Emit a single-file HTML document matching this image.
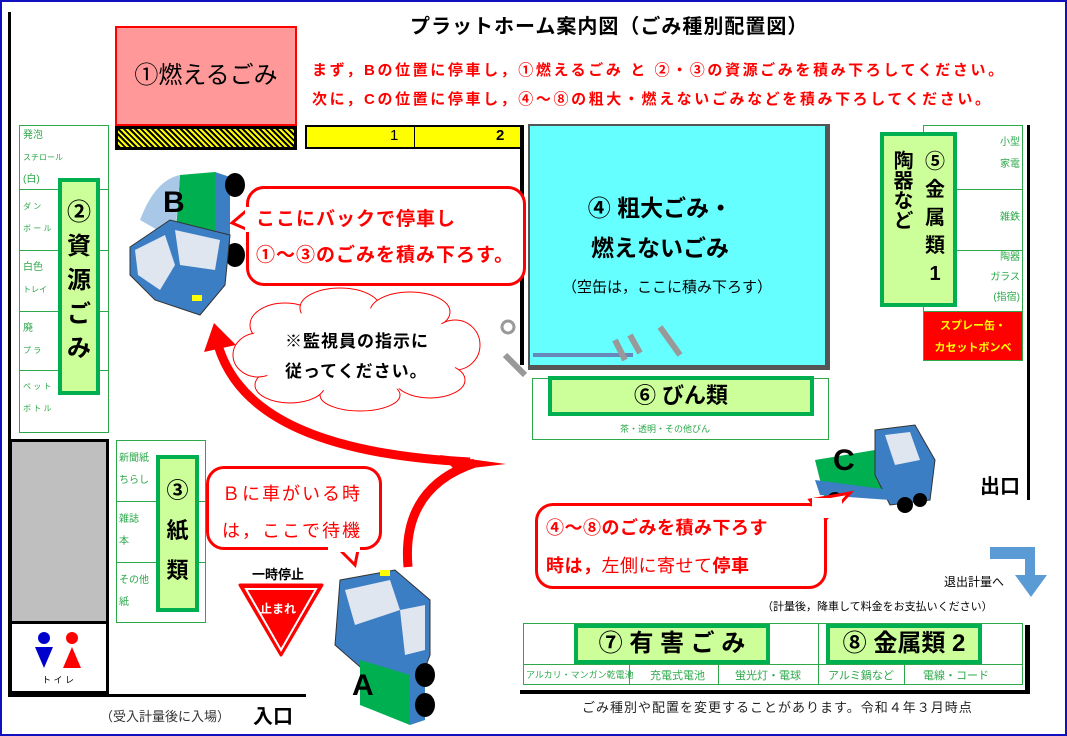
<!DOCTYPE html>
<html><head><meta charset="utf-8"><style>
*{margin:0;padding:0;box-sizing:border-box}
body{width:1067px;height:736px;position:relative;background:#fff;overflow:hidden;font-family:"Liberation Sans","Noto Sans CJK JP",sans-serif}
.a{position:absolute}
.g{color:#2ca84a;font-size:10px;line-height:22px;padding-left:3px}
.gb{border:1px solid #2ca84a}
.lbl{background:#ccff99;border:4px solid #00b050;font-weight:bold;color:#000;text-align:center}
.red{color:#ff0000;font-weight:bold}
.bub{border:3px solid #ff0000;border-radius:18px;background:#fff}
</style></head><body>
<div class="a" style="left:0;top:0;width:1067px;height:736px;border:2px solid #1010c0"></div>
<!-- walls -->
<div class="a" style="left:8px;top:12px;width:3px;height:685px;background:#000"></div>
<div class="a" style="left:8px;top:694px;width:298px;height:3px;background:#000"></div>
<div class="a" style="left:1027px;top:125px;width:3px;height:375px;background:#000"></div>
<div class="a" style="left:520px;top:690px;width:510px;height:4px;background:#000"></div>
<div class="a" style="left:1025px;top:625px;width:5px;height:68px;background:#000"></div>

<div class="a" style="left:410px;top:10px;font-size:20px;font-weight:bold;letter-spacing:1px">プラットホーム案内図（ごみ種別配置図）</div>
<div class="a red" style="left:312px;top:59px;font-size:15px;letter-spacing:2.6px;white-space:nowrap">まず，Bの位置に停車し，①燃えるごみ と ②・③の資源ごみを積み下ろしてください。</div>
<div class="a red" style="left:312px;top:88px;font-size:15px;letter-spacing:2.6px;white-space:nowrap">次に，Cの位置に停車し，④～⑧の粗大・燃えないごみなどを積み下ろしてください。</div>

<!-- 1 burnable -->
<div class="a" style="left:115px;top:26px;width:182px;height:100px;background:#ff9999;border:2px solid #ff0000;font-size:24px;text-align:center;line-height:96px">①燃えるごみ</div>
<div class="a" style="left:115px;top:126px;width:182px;height:24px;border:3px solid #000;background:repeating-linear-gradient(45deg,#000 0 2px,#ff0 2px 4px)"></div>
<div class="a" style="left:305px;top:125px;width:218px;height:24px;background:#ffff00;border:2px solid #000;border-right:none"></div>
<div class="a" style="left:414px;top:125px;width:1px;height:24px;background:#000"></div>
<div class="a" style="left:390px;top:127px;font-size:15px">1</div>
<div class="a" style="left:496px;top:127px;font-size:15px;font-weight:bold">2</div>
<div class="a" style="left:520px;top:125px;width:4px;height:240px;background:#000"></div>

<!-- left column -->
<div class="a gb" style="left:19px;top:125px;width:90px;height:308px"></div>
<div class="a" style="left:19px;top:189px;width:90px;height:1px;background:#2ca84a"></div>
<div class="a" style="left:19px;top:250px;width:90px;height:1px;background:#2ca84a"></div>
<div class="a" style="left:19px;top:311px;width:90px;height:1px;background:#2ca84a"></div>
<div class="a" style="left:19px;top:370px;width:90px;height:1px;background:#2ca84a"></div>
<div class="a g" style="left:20px;top:125px">発泡<br><span style="font-size:8px">スチロール</span><br>(白)</div>
<div class="a g" style="left:20px;top:196px;font-size:8px">ダ ン<br>ボ ー ル</div>
<div class="a g" style="left:20px;top:257px">白色<br><span style="font-size:8px">トレイ</span></div>
<div class="a g" style="left:20px;top:318px">廃<br><span style="font-size:8px">プ ラ</span></div>
<div class="a g" style="left:20px;top:376px;font-size:8px">ペ ッ ト<br>ボ ト ル</div>
<div class="a lbl" style="left:58px;top:178px;width:42px;height:217px;font-size:24px;line-height:34px;padding-top:14px">②<br>資<br>源<br>ご<br>み</div>

<!-- gray & toilet -->
<div class="a" style="left:9px;top:439px;width:100px;height:255px;border:3px solid #000"></div>
<div class="a" style="left:12px;top:442px;width:94px;height:180px;background:#bfbfbf"></div>
<div class="a" style="left:9px;top:621px;width:100px;height:3px;background:#000"></div>
<svg class="a" style="left:30px;top:630px" width="60" height="45"><circle cx="14" cy="8" r="6" fill="#0000cc"/><polygon points="5,17 23,17 14,38" fill="#0000cc"/><circle cx="42" cy="8" r="6" fill="#f00"/><polygon points="42,17 33,38 51,38" fill="#f00"/></svg>
<div class="a" style="left:42px;top:673px;font-size:9px">ト イ レ</div>
<div class="a" style="left:100px;top:706px;font-size:13px;color:#333">（受入計量後に入場）</div>
<div class="a" style="left:253px;top:700px;font-size:20px;font-weight:bold">入口</div>

<!-- paper -->
<div class="a gb" style="left:116px;top:440px;width:90px;height:183px"></div>
<div class="a" style="left:116px;top:501px;width:90px;height:1px;background:#2ca84a"></div>
<div class="a" style="left:116px;top:562px;width:90px;height:1px;background:#2ca84a"></div>
<div class="a g" style="left:116px;top:448px">新聞紙<br>ちらし</div>
<div class="a g" style="left:116px;top:509px">雑誌<br>本</div>
<div class="a g" style="left:116px;top:570px">その他<br>紙</div>
<div class="a lbl" style="left:156px;top:455px;width:43px;height:157px;font-size:22px;line-height:40px;padding-top:12px">③<br>紙<br>類</div>

<!-- blue box -->
<div class="a" style="left:528px;top:124px;width:302px;height:246px;background:#66ffff;border:2px solid #555;border-right:5px solid #555;border-bottom:5px solid #555"></div>
<div class="a" style="left:533px;top:353px;width:100px;height:4px;background:#6688bb"></div>
<div class="a" style="left:560px;top:188px;font-size:23px;font-weight:bold;line-height:40px;text-align:center;width:200px">④ 粗大ごみ・<br>燃えないごみ</div>
<div class="a" style="left:562px;top:276px;font-size:15px">（空缶は，ここに積み下ろす）</div>
<svg class="a" style="left:495px;top:315px" width="200" height="80"><circle cx="13" cy="12" r="6" fill="none" stroke="#999" stroke-width="3"/><line x1="10" y1="40" x2="30" y2="60" stroke="#999" stroke-width="6"/><g stroke="#999" stroke-width="6"><line x1="120" y1="25" x2="130" y2="45"/><line x1="135" y1="20" x2="145" y2="38"/><line x1="165" y1="12" x2="185" y2="40"/></g></svg>

<!-- bins -->
<div class="a gb" style="left:532px;top:378px;width:297px;height:62px"></div>
<div class="a lbl" style="left:548px;top:376px;width:266px;height:40px;font-size:22px;line-height:32px">⑥ びん類</div>
<div class="a" style="left:620px;top:422px;font-size:9px;color:#2ca84a">茶・透明・その他びん</div>

<!-- right column -->
<div class="a gb" style="left:923px;top:125px;width:100px;height:235px"></div>
<div class="a" style="left:923px;top:189px;width:100px;height:1px;background:#2ca84a"></div>
<div class="a" style="left:923px;top:250px;width:100px;height:1px;background:#2ca84a"></div>
<div class="a" style="left:923px;top:311px;width:100px;height:1px;background:#2ca84a"></div>
<div class="a g" style="left:970px;top:132px;text-align:right;width:50px;padding:0">小型<br>家電</div>
<div class="a g" style="left:970px;top:207px;text-align:right;width:50px;padding:0">雑鉄</div>
<div class="a g" style="left:960px;top:248px;text-align:right;width:60px;padding:0;line-height:20px">陶器<br>ガラス<br>(指宿)</div>
<div class="a" style="left:923px;top:311px;width:100px;height:50px;background:#ff0000;border:1px solid #2ca84a;color:#ffff00;font-size:11px;font-weight:bold;text-align:center;line-height:22px;padding-top:3px">スプレー缶・<br>カセットボンベ</div>
<div class="a lbl" style="left:880px;top:132px;width:77px;height:175px"></div>
<div class="a" style="left:889px;top:150px;font-size:20px;font-weight:bold;writing-mode:vertical-rl;line-height:24px">陶器など</div>
<div class="a" style="left:920px;top:148px;font-size:20px;font-weight:bold;text-align:center;line-height:28px;width:30px">⑤<br>金<br>属<br>類<br>1</div>

<div class="a" style="left:980px;top:470px;font-size:20px;font-weight:bold">出口</div>
<svg class="a" style="left:990px;top:545px" width="75" height="55"><path d="M0 2 H45 V30 H57 L41 52 L25 30 H35 V14 H0 Z" fill="#5b9bd5"/></svg>
<div class="a" style="left:944px;top:573px;font-size:12px">退出計量へ</div>
<div class="a" style="left:762px;top:598px;font-size:11px">（計量後，降車して料金をお支払いください）</div>

<!-- bottom bins -->
<div class="a gb" style="left:523px;top:623px;width:500px;height:62px"></div>
<div class="a" style="left:818px;top:623px;width:1px;height:62px;background:#2ca84a"></div>
<div class="a" style="left:523px;top:664px;width:500px;height:1px;background:#2ca84a"></div>
<div class="a" style="left:629px;top:664px;width:1px;height:21px;background:#2ca84a"></div>
<div class="a" style="left:718px;top:664px;width:1px;height:21px;background:#2ca84a"></div>
<div class="a" style="left:904px;top:664px;width:1px;height:21px;background:#2ca84a"></div>
<div class="a lbl" style="left:574px;top:624px;width:196px;height:40px;font-size:24px;line-height:32px">⑦ 有 害 ご み</div>
<div class="a lbl" style="left:826px;top:624px;width:156px;height:40px;font-size:24px;line-height:32px">⑧ 金属類 2</div>
<div class="a" style="left:526px;top:668px;font-size:9px;color:#2ca84a">アルカリ・マンガン乾電池</div>
<div class="a" style="left:650px;top:667px;font-size:11px;color:#2ca84a">充電式電池</div>
<div class="a" style="left:735px;top:667px;font-size:11px;color:#2ca84a">蛍光灯・電球</div>
<div class="a" style="left:828px;top:667px;font-size:11px;color:#2ca84a">アルミ鍋など</div>
<div class="a" style="left:923px;top:667px;font-size:11px;color:#2ca84a">電線・コード</div>
<div class="a" style="left:582px;top:697px;font-size:13px;color:#222;letter-spacing:1px">ごみ種別や配置を変更することがあります。令和４年３月時点</div>

<!-- arrow & cloud -->
<svg class="a" style="left:0;top:0" width="1067" height="736">
<g fill="#fff" stroke="#f00" stroke-width="1">
<ellipse cx="285" cy="325" rx="35" ry="22"/><ellipse cx="340" cy="308" rx="40" ry="20"/><ellipse cx="410" cy="312" rx="40" ry="20"/><ellipse cx="455" cy="345" rx="25" ry="25"/><ellipse cx="430" cy="380" rx="35" ry="18"/><ellipse cx="360" cy="395" rx="40" ry="16"/><ellipse cx="290" cy="385" rx="35" ry="18"/><ellipse cx="258" cy="355" rx="25" ry="22"/>
</g>
<ellipse cx="355" cy="350" rx="110" ry="42" fill="#fff"/>
<path d="M408 567 C403 510 430 478 475 463" fill="none" stroke="#f00" stroke-width="9"/>
<polygon points="440,455 506,464 455,470" fill="#f00"/>
<path d="M470 462 C330 455 240 420 218 345" fill="none" stroke="#f00" stroke-width="9"/>
<polygon points="204,352 214,323 236,345" fill="#f00"/>
<!-- truck B -->
<g transform="translate(130,175)"><polygon points="50,0 85,-3 85,75 45,70" fill="#00b050"/><path d="M10 45 Q25 5 50 0 L45 65 Z" fill="#a9c8e8"/><polygon points="85,-3 100,2 100,85 85,75" fill="#3b7ec4"/><ellipse cx="105" cy="10" rx="10" ry="12" fill="#000"/><ellipse cx="105" cy="80" rx="10" ry="12" fill="#000"/><polygon points="0,72 40,45 100,60 95,110 70,140 25,125 0,100" fill="#3b7ec4" stroke="#333"/><polygon points="5,75 35,60 45,90 30,115 8,100" fill="#e0e6f0"/><polygon points="45,55 90,65 85,95 50,90" fill="#e0e6f0"/><rect x="62" y="120" width="10" height="6" fill="#ff0"/></g>
<text x="163" y="212" font-size="30" font-weight="bold" font-family="Liberation Sans">B</text>
<!-- truck A -->
<g transform="translate(320,565)"><polygon points="20,15 75,5 110,35 110,90 95,130 55,115 15,80" fill="#3b7ec4" stroke="#333"/><polygon points="25,25 70,15 80,45 35,60" fill="#e0e6f0"/><polygon points="80,45 105,40 105,85 85,90" fill="#e0e6f0"/><polygon points="40,95 90,110 90,160 40,140" fill="#00b050"/><polygon points="90,110 105,100 105,155 90,160" fill="#3b7ec4"/><ellipse cx="105" cy="110" rx="10" ry="12" fill="#000"/><ellipse cx="105" cy="140" rx="10" ry="12" fill="#000"/><rect x="60" y="5" width="10" height="6" fill="#ff0"/></g>
<text x="352" y="695" font-size="30" font-weight="bold" font-family="Liberation Sans">A</text>
<!-- truck C -->
<g transform="translate(805,420)"><polygon points="10,40 70,30 80,70 20,80" fill="#00b050"/><polygon points="70,10 110,5 130,40 125,80 85,85 70,55" fill="#3b7ec4" stroke="#333"/><polygon points="80,15 105,12 115,40 90,45" fill="#e0e6f0"/><polygon points="10,60 85,70 85,80 15,75" fill="#3b7ec4"/><circle cx="30" cy="80" r="8" fill="#000"/><circle cx="100" cy="85" r="8" fill="#000"/><circle cx="115" cy="80" r="7" fill="#000"/></g>
<text x="833" y="470" font-size="30" font-weight="bold" font-family="Liberation Sans">C</text>
<!-- stop sign -->
<polygon points="240,585 322,585 281,655" fill="#f00" stroke="#f00" stroke-width="3" stroke-linejoin="round"/>
<polygon points="246,589 316,589 281,650" fill="none" stroke="#fff" stroke-width="2"/>
</svg>
<div class="a" style="left:285px;top:327px;font-size:17px;font-weight:bold;line-height:30px;letter-spacing:1px">※監視員の指示に<br>従ってください。</div>
<div class="a" style="left:252px;top:564px;font-size:13px;font-weight:bold">一時停止</div>
<div class="a" style="left:260px;top:600px;font-size:12px;font-weight:bold;color:#fff">止まれ</div>

<!-- speech bubbles -->
<svg class="a" style="left:0;top:0" width="1067" height="736">
<polygon points="253,205 232,223 253,232" fill="#fff" stroke="#f00" stroke-width="3"/>
<polygon points="330,540 355,565 360,540" fill="#fff" stroke="#f00" stroke-width="3"/>
<polygon points="810,500 850,493 825,520" fill="#fff" stroke="#f00" stroke-width="3"/>
</svg>
<div class="a bub" style="left:246px;top:186px;width:280px;height:100px"></div>
<div class="a red" style="left:256px;top:202px;font-size:19px;line-height:36px;letter-spacing:1px">ここにバックで停車し<br>①～③のごみを積み下ろす。</div>
<div class="a bub" style="left:206px;top:466px;width:176px;height:84px"></div>
<div class="a" style="left:222px;top:476px;font-size:18px;line-height:37px;color:#f00;letter-spacing:2px">Ｂに車がいる時<br>は，ここで待機</div>
<div class="a bub" style="left:535px;top:503px;width:292px;height:86px"></div>
<div class="a" style="left:546px;top:509px;font-size:18px;line-height:38px;color:#f00;letter-spacing:0.5px"><b>④～⑧のごみを積み下ろす</b><br><b>時は，</b>左側に寄せて<b>停車</b></div>
<div class="a" style="left:812px;top:498px;width:30px;height:20px;background:#fff"></div>
<div class="a" style="left:328px;top:538px;width:32px;height:14px;background:#fff"></div>
<div class="a" style="left:245px;top:207px;width:10px;height:25px;background:#fff"></div>
</body></html>
